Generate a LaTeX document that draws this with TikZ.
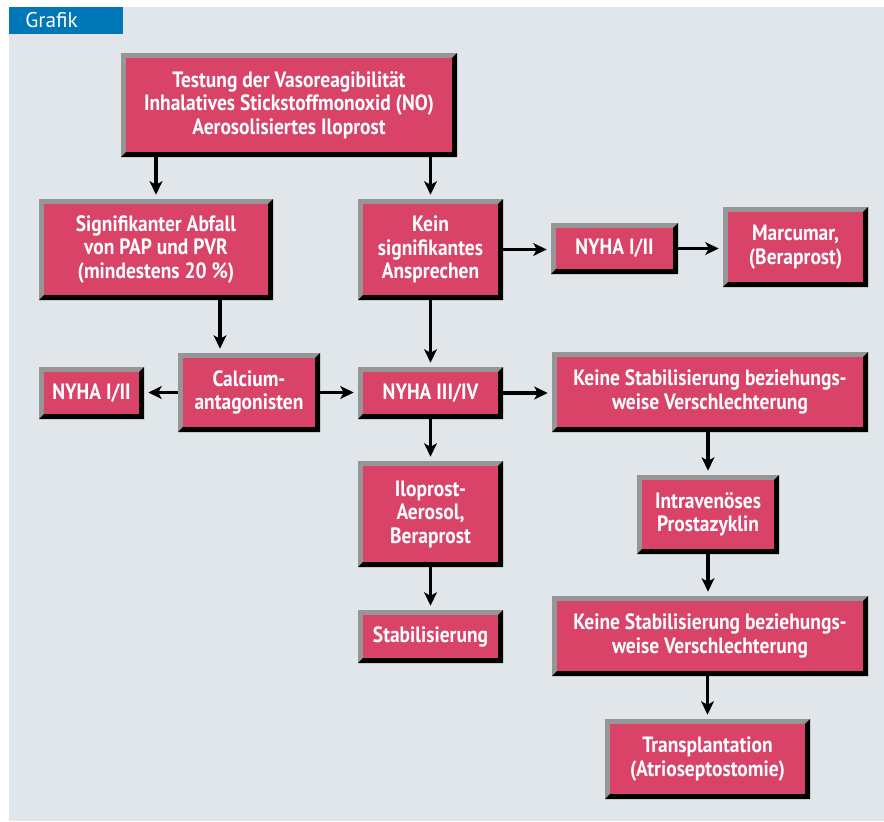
\documentclass[tikz,border=0pt]{standalone}
\usepackage{fontspec}
\setmainfont{PT Sans}
\newfontfamily\boxfont{PT Sans}[FakeStretch=0.88]
\usetikzlibrary{arrows.meta}
\definecolor{boxpink}{HTML}{D94368}
\definecolor{bevgray}{HTML}{969696}
\definecolor{panelbg}{HTML}{E1E6EA}
\definecolor{headblue}{HTML}{0077B6}
\def\bw{3.6pt}
\tikzset{
  bx/.style={rectangle, fill=boxpink, text=white, align=center, inner sep=0pt,
    font=\boxfont\bfseries\fontsize{16.6}{17.6}\selectfont,
    path picture={
      \path (path picture bounding box.north west) coordinate (pnw)
            (path picture bounding box.north east) coordinate (pne)
            (path picture bounding box.south west) coordinate (psw)
            (path picture bounding box.south east) coordinate (pse);
      \fill[bevgray] (pnw) -- (pne) -- ([shift={(-\bw,-\bw)}]pne) -- ([shift={(\bw,-\bw)}]pnw)
         -- ([shift={(\bw,\bw)}]psw) -- (psw) -- cycle;
      \fill[black] (pne) -- (pse) -- (psw) -- ([shift={(\bw,\bw)}]psw) -- ([shift={(-\bw,\bw)}]pse)
         -- ([shift={(-\bw,-\bw)}]pne) -- cycle;
    }},
  arr/.style={line width=2.3pt, -{Stealth[length=10pt,width=9.5pt,inset=2.5pt]}, shorten >=3pt}
}
\newcommand\Bx[6]{\node[bx,minimum width={(#4-#2)*0.75pt},minimum height={(#5-#3)*0.75pt}] (#1) at ({(#2+#4)/2},{(#3+#5)/2}) {#6};}
\begin{document}
\begin{tikzpicture}[x=0.75pt,y=-0.75pt]
\useasboundingbox (0,0) rectangle (884,821);
\fill[white] (0,0) rectangle (884,821);
\fill[panelbg] (9,7) rectangle (884,821);
\fill[headblue] (9,7) rectangle (123,34);
\node[anchor=west, text=white, inner sep=0pt, font=\fontsize{16}{18}\selectfont] (hdr) at (25,20.5) {Grafik};

\Bx{top}{121}{53}{457}{157}{Testung der Vasoreagibilität\\Inhalatives Stickstoffmonoxid (NO)\\Aerosolisiertes Iloprost}
\Bx{sig}{39}{199}{273}{300}{Signifikanter Abfall\\von PAP und PVR\\(mindestens 20 \%)}
\Bx{kein}{358}{199}{503}{300}{Kein\\signifikantes\\Ansprechen}
\Bx{nyr}{551}{223}{678}{274}{NYHA I/II}
\Bx{marc}{723}{207}{868}{287}{Marcumar,\\(Beraprost)}
\Bx{nyl}{39}{367}{144}{419}{NYHA I/II}
\Bx{calc}{178}{353}{320}{432}{Calcium-\\antagonisten}
\Bx{nyb}{358}{367}{503}{419}{NYHA III/IV}
\Bx{keineA}{552}{352}{868}{432}{Keine Stabilisierung beziehungs-\\weise Verschlechterung}
\Bx{ilo}{358}{461}{503}{567}{Iloprost-\\Aerosol,\\Beraprost}
\Bx{stab}{358}{610}{503}{663}{Stabilisierung}
\Bx{iv}{637}{475}{779}{554}{Intravenöses\\Prostazyklin}
\Bx{keineB}{552}{596}{868}{676}{Keine Stabilisierung beziehungs-\\weise Verschlechterung}
\Bx{trans}{605}{719}{810}{799}{Transplantation\\(Atrioseptostomie)}

\draw[arr] (top.south -| sig.north) -- (sig.north);
\draw[arr] (top.south -| kein.north) -- (kein.north);
\draw[arr] (kein.east) -- (kein.east -| nyr.west);
\draw[arr] (nyr.east) -- (nyr.east -| marc.west);
\draw[arr] ([xshift=48pt]sig.south) -- ([xshift=48pt]sig.south |- calc.north);
\draw[arr] (kein.south) -- (nyb.north);
\draw[arr] (calc.west) -- (calc.west -| nyl.east);
\draw[arr] (calc.east) -- (calc.east -| nyb.west);
\draw[arr] (nyb.east) -- (nyb.east -| keineA.west);
\draw[arr] (nyb.south) -- (ilo.north);
\draw[arr] (ilo.south) -- (stab.north);
\draw[arr] (keineA.south -| iv.north) -- (iv.north);
\draw[arr] (iv.south) -- (iv.south |- keineB.north);
\draw[arr] (keineB.south -| trans.north) -- (trans.north);
\end{tikzpicture}
\end{document}
